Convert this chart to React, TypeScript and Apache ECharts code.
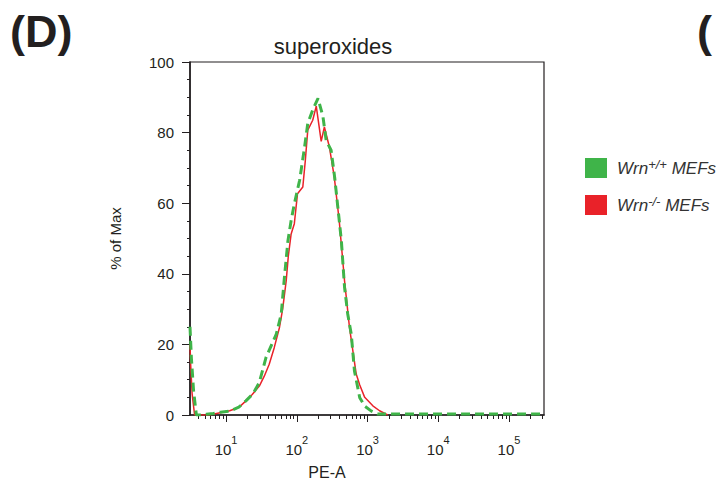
import React, { useEffect, useRef } from 'react';
import * as echarts from 'echarts';

const FONT = '"Liberation Sans", Arial, Helvetica, sans-serif';

// x values are log10(PE-A); y values are % of Max
const X_MIN = 0.49;
const X_MAX = 5.495;
const xMajorTicks = [1, 2, 3, 4, 5];
const yTicks = [0, 20, 40, 60, 80, 100];

const WT_NAME = 'Wrn+/+ MEFs';
const KO_NAME = 'Wrn-/- MEFs';

const wtLogPE = [0.49, 0.51, 0.54, 0.58, 0.66, 0.72, 0.82, 0.92, 1.05, 1.18, 1.28, 1.38, 1.47, 1.565, 1.71, 1.78, 1.825, 1.875, 1.92, 1.965, 2.04, 2.11, 2.155, 2.225, 2.3, 2.37, 2.415, 2.485, 2.535, 2.58, 2.63, 2.675, 2.72, 2.77, 2.815, 2.89, 2.96, 3.055, 3.14, 3.6, 4.2, 4.8, 5.495];
const wtPct = [25, 16, 7, 0, 0, 0.2, 0.4, 0.8, 1.1, 2.2, 4, 6, 9.2, 16.3, 22.9, 28.6, 39, 49.4, 55.1, 59.8, 66.5, 75.9, 82.6, 86.4, 89.7, 84.5, 77.8, 75, 67.4, 58.9, 49.4, 36.2, 28.6, 22.9, 12.5, 4.9, 2.5, 1.1, 0.3, 0.3, 0.3, 0.3, 0.3];

const koLogPE = [0.49, 0.5, 0.52, 0.555, 0.76, 0.83, 0.95, 1.05, 1.12, 1.19, 1.28, 1.37, 1.47, 1.54, 1.61, 1.68, 1.755, 1.8, 1.85, 1.88, 1.92, 1.965, 2.01, 2.085, 2.12, 2.155, 2.225, 2.275, 2.345, 2.39, 2.46, 2.53, 2.6, 2.675, 2.745, 2.84, 2.89, 2.96, 3.075, 3.17, 3.285];
const koPct = [20, 14, 6, 0, 0, 0.3, 0.8, 1.2, 1.7, 2.3, 4, 5.8, 8.2, 11, 14.4, 19, 24.8, 30, 38, 45, 51.3, 54.2, 62.7, 64.6, 72, 80.7, 83.5, 87.5, 77.5, 81.6, 76, 67.4, 55, 38, 24.8, 11.6, 8.5, 5, 2.6, 1.2, 0];

const GREEN = '#3fb449';
const RED = '#e92229';
const INK = '#231f20';

function minorLogTicks(): number[] {
  const out: number[] = [];
  for (let n = 0; n <= 5; n++) {
    for (let k = 2; k <= 9; k++) {
      const v = n + Math.log10(k);
      if (v > X_MIN && v < X_MAX) out.push(v);
    }
  }
  return out;
}

export default function App() {
  const ref = useRef<HTMLDivElement>(null);
  useEffect(() => {
    if (!ref.current) return;
    const chart = echarts.init(ref.current, null, { renderer: 'svg' });
    const wtData = wtLogPE.map((x, i) => [x, wtPct[i]]);
    const koData = koLogPE.map((x, i) => [x, koPct[i]]);
    const option: any = {
      animation: false,
      textStyle: { fontFamily: FONT },
      grid: {
        left: 190, right: 172, top: 62, bottom: 72,
        show: true, borderColor: INK, borderWidth: 1.2, backgroundColor: 'transparent',
      },
      xAxis: [
        {
          type: 'value', min: X_MIN, max: X_MAX, position: 'bottom',
          axisLine: { show: true, onZero: false, lineStyle: { color: INK, width: 1.6 } },
          axisTick: { show: true, customValues: xMajorTicks, length: 7, lineStyle: { color: INK, width: 1 } },
          axisLabel: {
            customValues: xMajorTicks,
            margin: 19,
            formatter: (v: number) => `{b|10}{s|${Math.round(v)}}`,
            rich: {
              b: { fontSize: 15, lineHeight: 30, color: INK, fontFamily: FONT },
              s: { fontSize: 11, lineHeight: 11, verticalAlign: 'top', color: INK, fontFamily: FONT },
            },
          },
          splitLine: { show: false },
        },
        {
          type: 'value', min: X_MIN, max: X_MAX, position: 'bottom',
          axisLine: { show: false },
          axisTick: { show: true, customValues: minorLogTicks(), length: 4, lineStyle: { color: INK, width: 1 } },
          axisLabel: { show: false },
          splitLine: { show: false },
        },
      ],
      yAxis: {
        type: 'value', min: 0, max: 100, interval: 20,
        axisLine: { show: true, lineStyle: { color: INK, width: 1.6 } },
        axisTick: { show: true, length: 8, lineStyle: { color: INK, width: 1 } },
        minorTick: { show: true, splitNumber: 4, length: 3, lineStyle: { color: INK, width: 1 } },
        axisLabel: { margin: 16, fontSize: 15, color: INK, fontFamily: FONT, customValues: yTicks },
        splitLine: { show: false },
        name: '% of Max', nameLocation: 'middle', nameGap: 67,
        nameTextStyle: { fontSize: 15, color: INK, fontFamily: FONT },
      },
      legend: {
        orient: 'vertical', left: 585, top: 158, padding: 0,
        itemWidth: 22, itemHeight: 20, itemGap: 17,
        icon: 'rect',
        data: [WT_NAME, KO_NAME],
        itemStyle: { borderWidth: 0 },
        textStyle: {
          padding: [0, 0, 0, 5],
          rich: {
            i: { fontSize: 17, fontStyle: 'italic', lineHeight: 20, color: '#333', fontFamily: FONT },
            s: { fontSize: 13, fontStyle: 'italic', lineHeight: 12, verticalAlign: 'top', color: '#333', fontFamily: FONT },
          },
        },
        formatter: (name: string) =>
          name === WT_NAME ? '{i|Wrn}{s|+/+}{i| MEFs}' : '{i|Wrn}{s|-/-}{i| MEFs}',
      },
      series: [
        {
          name: KO_NAME, type: 'line', data: koData, symbol: 'none', showSymbol: false,
          lineStyle: { color: RED, width: 1.5 }, itemStyle: { color: RED }, z: 2,
        },
        {
          name: WT_NAME, type: 'line', data: wtData, symbol: 'none', showSymbol: false,
          lineStyle: { color: GREEN, width: 3, type: [9, 5] }, itemStyle: { color: GREEN }, z: 3,
        },
      ],
      graphic: [
        { type: 'text', x: 10, y: 31, style: { text: '(D)', fontSize: 45, fontWeight: 'bold', fontFamily: FONT, fill: INK, align: 'left', verticalAlign: 'middle' } },
        { type: 'text', x: 697, y: 31, style: { text: '(', fontSize: 45, fontWeight: 'bold', fontFamily: FONT, fill: INK, align: 'left', verticalAlign: 'middle' } },
        { type: 'text', x: 333, y: 46.5, style: { text: 'superoxides', fontSize: 22, fontFamily: FONT, fill: INK, align: 'center', verticalAlign: 'middle' } },
        { type: 'text', x: 327, y: 472.5, style: { text: 'PE-A', fontSize: 16, fontFamily: FONT, fill: INK, align: 'center', verticalAlign: 'middle' } },
      ],
    };
    chart.setOption(option);
    return () => chart.dispose();
  }, []);
  return (
    <div
      ref={ref}
      style={{ position: 'absolute', left: 0, top: 0, width: 716, height: 487, background: '#fff' }}
    />
  );
}
